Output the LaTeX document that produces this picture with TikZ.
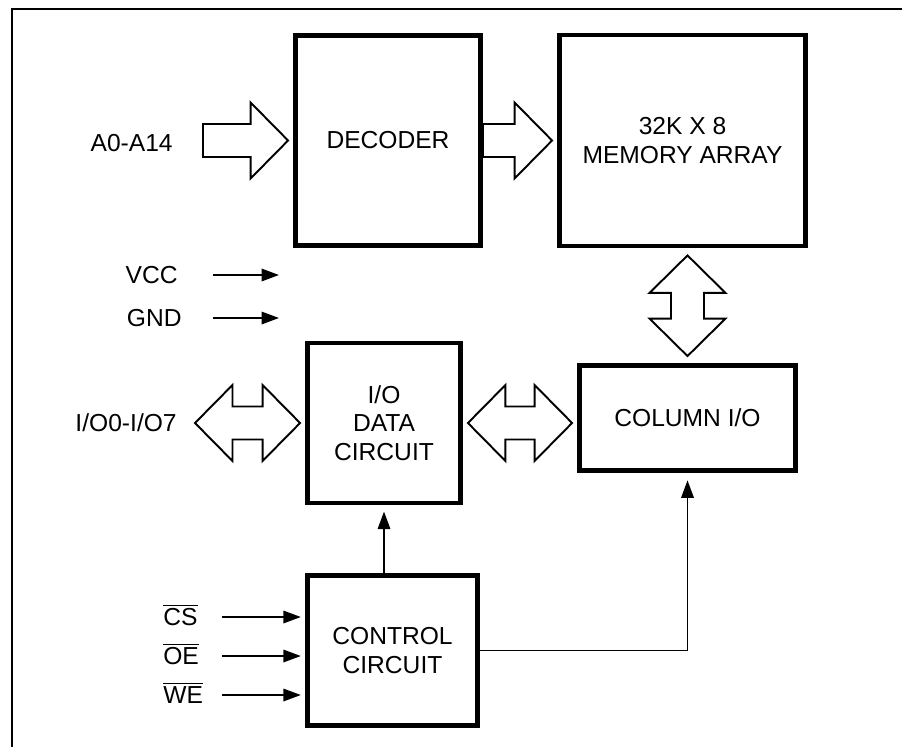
\documentclass[tikz,border=0pt]{standalone}
\usepackage{fontspec}
\setmainfont{Liberation Sans}
\usetikzlibrary{arrows.meta,calc,positioning}

% wide bus arrows: [gap] {from} {to}
\newcommand{\busarrow}[3][0pt]{%
  \draw[bus] let \p1=(#2), \p2=(#3), \n1={veclen(\x2-\x1,\y2-\y1)-#1}, \n2={atan2(\y2-\y1,\x2-\x1)} in
    [shift={(\p1)}, rotate=\n2] (0pt,0.33cm) -- ({\n1-0.75cm},0.33cm) -- ({\n1-0.75cm},0.76cm) -- (\n1,0pt)
    -- ({\n1-0.75cm},-0.76cm) -- ({\n1-0.75cm},-0.33cm) -- (0pt,-0.33cm) -- cycle;}
\newcommand{\dbusarrow}[3][0pt]{%
  \draw[bus] let \p1=(#2), \p2=(#3), \n1={veclen(\x2-\x1,\y2-\y1)-#1}, \n2={atan2(\y2-\y1,\x2-\x1)} in
    [shift={(\p1)}, rotate=\n2] (#1,0pt) -- ({#1+0.75cm},0.76cm) -- ({#1+0.75cm},0.33cm) -- ({\n1-0.75cm},0.33cm)
    -- ({\n1-0.75cm},0.76cm) -- (\n1,0pt) -- ({\n1-0.75cm},-0.76cm) -- ({\n1-0.75cm},-0.33cm)
    -- ({#1+0.75cm},-0.33cm) -- ({#1+0.75cm},-0.76cm) -- cycle;}

\begin{document}
\begin{tikzpicture}[x=0.02cm, y=-0.02cm, font=\fontsize{14}{16.2}\selectfont, >={Triangle[length=0.35cm,width=0.25cm]},
    box/.style={draw, line width=2.8pt, align=center},
    bus/.style={line width=1.1pt},
    sig/.style={->, line width=1pt},
    lbl/.style={inner sep=0pt}]
  \useasboundingbox (0,0) rectangle (902,747);
  \draw[line width=1.2pt] (12,747) -- (12,9) -- (902,9);

  % blocks
  \node[box, minimum width=3.7cm, minimum height=4.2cm] (dec) at (388,140.5) {DECODER};
  \node[box, minimum width=4.92cm, minimum height=4.22cm] (mem) at (682.5,140.5) {32K X 8\\MEMORY ARRAY};
  \node[box, minimum width=3.06cm, minimum height=3.2cm] (iod) at (384,423) {I/O\\DATA\\CIRCUIT};
  \node[box, minimum width=4.32cm, minimum height=2.1cm] (col) at (687.5,418) {COLUMN I/O};
  \node[box, minimum width=3.4cm, minimum height=3.0cm] (ctl) at (392.5,650.5) {CONTROL\\CIRCUIT};

  % pins
  \node[lbl, anchor=east] (addr) at (173,143) {A0-A14};
  \coordinate (addrin) at (203,140.5);
  \node[lbl, anchor=east] (vcc) at (178,275) {VCC};
  \coordinate (vccend) at (279,275);
  \node[lbl, anchor=east] (gnd) at (182,318) {GND};
  \coordinate (gndend) at (279,318);
  \node[lbl, anchor=east] (io) at (177,423) {I/O0-I/O7};
  \coordinate (iopin) at (190,423);

  % buses
  \busarrow[0.1cm]{addrin}{dec.west}
  \busarrow[0.1cm]{dec.east}{mem.west}
  \dbusarrow[0.14cm]{mem.south -| col.north}{col.north}
  \dbusarrow[0.1cm]{iopin}{iod.west}
  \dbusarrow[0.1cm]{iod.east}{col.west |- iod.east}

  % signals
  \draw[sig] ([xshift=0.7cm]vcc.east) -- (vccend);
  \draw[sig] ([xshift=0.62cm]gnd.east) -- (gndend);
  \foreach \s/\t/\y in {cs/CS/625, oe/OE/664, we/WE/703} {
    \node[lbl, anchor=base west] (\s) at (163,\y) {$\overline{\mbox{\t}}$};
    \coordinate (\s in) at (222,\y-8);
    \draw[sig, shorten >=2.4pt] (\s in) -- (\s in -| ctl.west);
  }
  \draw[sig, shorten >=3.5pt] (iod.south |- ctl.north) -- (iod.south);
  \draw[sig, shorten >=4.2pt] (ctl.east) -| (col.south);
\end{tikzpicture}
\end{document}
